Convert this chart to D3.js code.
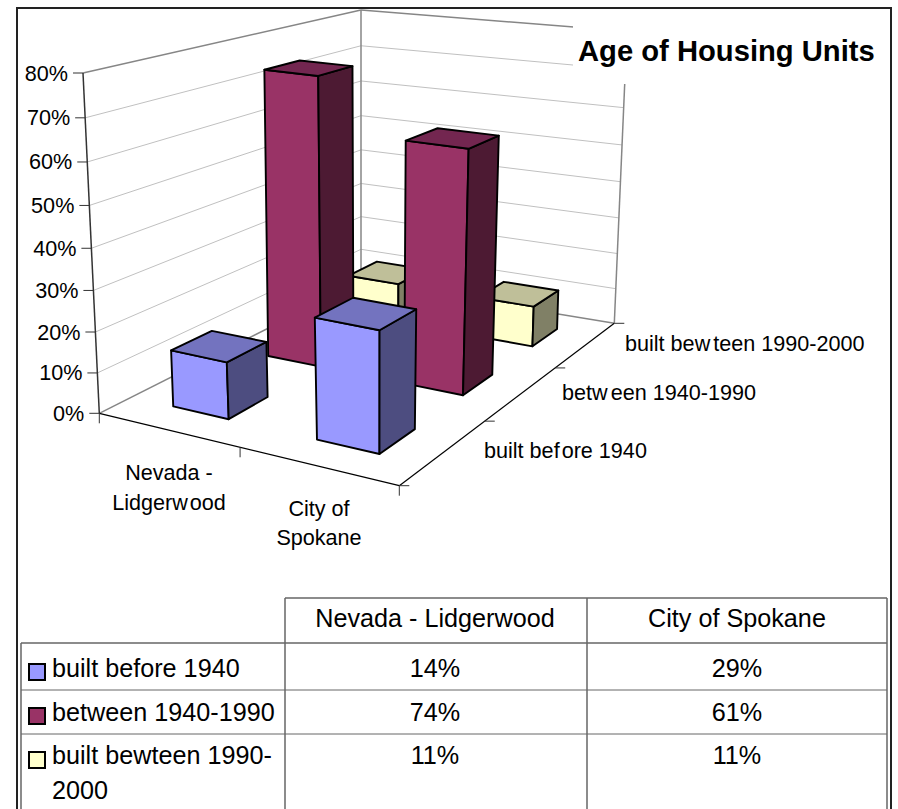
<!DOCTYPE html>
<html><head><meta charset="utf-8">
<script src="https://cdn.jsdelivr.net/npm/d3@7/dist/d3.min.js"></script>
<style>html,body{margin:0;padding:0;background:#fff}svg{display:block}text{font-family:"Liberation Sans",Arial,sans-serif;fill:#000}</style>
</head><body><svg id="c" width="898" height="809"></svg>
<script>
const categories = ["Nevada - Lidgerwood", "City of Spokane"];
const seriesNames = ["built before 1940", "between 1940-1990", "built bewteen 1990-2000"];
const builtBefore1940 = [0.14, 0.29];
const between1940_1990 = [0.74, 0.61];
const built1990_2000 = [0.11, 0.11];
const seriesValues = [builtBefore1940, between1940_1990, built1990_2000];
const valueTicks = [0, 0.1, 0.2, 0.3, 0.4, 0.5, 0.6, 0.7, 0.8];
const frontColors = ["#9999FF", "#993366", "#FFFFCC"];
const topColors = ["#7373BF", "#732650", "#BFBF99"];
const sideColors = ["#4D4D80", "#4D1A33", "#808066"];

const svg = d3.select("#c");
// scales into the unit cube of the plot
const uScale = d3.scaleBand().domain(categories).range([0.005,1.005]).paddingInner(0.6).paddingOuter(0.3);
const vScale = d3.scaleBand().domain(seriesNames).range([0,1]).paddingInner(0.6).paddingOuter(0.3);
const zScale = d3.scaleLinear().domain([0,0.8]).range([0,1]);

// perspective: unit square mapped onto the floor quad and onto the ceiling quad
function quadMap(p0,p1,p2,p3){
  const dx1=p1[0]-p2[0],dx2=p3[0]-p2[0],sx=p0[0]-p1[0]+p2[0]-p3[0];
  const dy1=p1[1]-p2[1],dy2=p3[1]-p2[1],sy=p0[1]-p1[1]+p2[1]-p3[1];
  const den=dx1*dy2-dx2*dy1;
  const g=(sx*dy2-dx2*sy)/den,h=(dx1*sy-sx*dy1)/den;
  const a=p1[0]-p0[0]+g*p1[0],b=p3[0]-p0[0]+h*p3[0],c=p0[0];
  const d=p1[1]-p0[1]+g*p1[1],e=p3[1]-p0[1]+h*p3[1],f=p0[1];
  return (u,v)=>{const w=g*u+h*v+1;return [(a*u+b*v+c)/w,(d*u+e*v+f)/w];};
}
const floorMap=quadMap([99.3,413.3],[399.3,485.7],[614.3,323.3],[361,281.5]);
const ceilMap=quadMap([83,73],[402.5,118],[627,31.3],[361,10]);
const warp=z=>z/(1+0.062*(1-z));
function proj(u,v,z){const p=floorMap(u,v),q=ceilMap(u,v),s=warp(z);return [p[0]+(q[0]-p[0])*s,p[1]+(q[1]-p[1])*s];}

const line=d3.line();
function seg(p,q,col,wd){svg.append("line").attr("x1",p[0]).attr("y1",p[1]).attr("x2",q[0]).attr("y2",q[1]).attr("stroke",col).attr("stroke-width",wd);}

// gridlines on the walls
valueTicks.slice(1,-1).forEach(t=>{const z=zScale(t);
  seg(proj(0,0,z),proj(0,1,z),"#c0c0c0",1);
  seg(proj(0,1,z),proj(1,1,z),"#c0c0c0",1);
});
// wall outlines
const wallGrey="#868686";
seg(proj(0,0,1),proj(0,1,1),wallGrey,1.5);
seg(proj(0,1,1),proj(1,1,1),wallGrey,1.5);
seg(proj(0,1,0),proj(0,1,1),wallGrey,1.5);
seg(proj(1,1,0),proj(1,1,1),wallGrey,1.5);
seg(proj(0,0,0),proj(0,1,0),wallGrey,1.5);
seg(proj(0,1,0),proj(1,1,0),wallGrey,1.5);

// bars, back to front
d3.range(seriesNames.length).reverse().forEach(si=>{
  categories.forEach((cat,ci)=>{
    const u0=uScale(cat),u1=u0+uScale.bandwidth(),v0=vScale(seriesNames[si]),v1=v0+vScale.bandwidth(),z=zScale(seriesValues[si][ci]);
    const faces=[
      [[proj(u0,v0,0),proj(u1,v0,0),proj(u1,v0,z),proj(u0,v0,z)],frontColors[si]],
      [[proj(u1,v0,0),proj(u1,v1,0),proj(u1,v1,z),proj(u1,v0,z)],sideColors[si]],
      [[proj(u0,v0,z),proj(u1,v0,z),proj(u1,v1,z),proj(u0,v1,z)],topColors[si]]
    ];
    faces.forEach(([pts,col])=>{
      svg.append("path").attr("d",line(pts)+"Z").attr("fill",col).attr("stroke","#000").attr("stroke-width",1.9).attr("stroke-linejoin","round");
    });
  });
});

// title mask and title
svg.append("rect").attr("x",573).attr("y",20).attr("width",312).attr("height",64).attr("fill","#fff");
svg.append("text").attr("x",578).attr("y",60.5).attr("font-size",29.2).attr("font-weight","bold").text("Age of Housing Units");

// axes
seg(proj(0,0,0),proj(0,0,1),"#333",1.5);
seg(proj(0,0,0),proj(1,0,0),"#000",1.2);
seg(proj(1,0,0),proj(1,1,0),"#000",1.2);
valueTicks.forEach(t=>{const p=proj(0,0,zScale(t));
  seg([p[0]-10,p[1]],p,"#333",1);
  svg.append("text").attr("x",p[0]-15).attr("y",p[1]+7.5).attr("text-anchor","end").attr("font-size",21.6).text(d3.format(".0%")(t));
});
[0,0.5,1].forEach(u=>{const p=proj(u,0,0);seg(p,[p[0],p[1]+10],"#333",1);});
[0,1/3,2/3,1].forEach(v=>{const p=proj(1,v,0);seg(p,[p[0]+10,p[1]],"#333",1);});

// category labels
const catLabels=[[["Nevada -"],["Lidgerw","ood"]],[["City of"],["Spokane"]]];
const catPos=[[169,480,510],[319,516,545]];
function gapText(x,y,size,parts,anchor,gap){
  const t=svg.append("text").attr("x",x).attr("y",y).attr("font-size",size).attr("text-anchor",anchor);
  parts.forEach((s,i)=>{const ts=t.append("tspan").text(s);if(i)ts.attr("dx",gap);});
}
catLabels.forEach((rows,i)=>rows.forEach((r,j)=>gapText(catPos[i][0],catPos[i][j+1],21.6,r,"middle",2)));
// series axis labels
gapText(484,457.5,21.6,["built bef","ore 1940"],"start",2);
gapText(562,400,21.6,["betw","een 1940-1990"],"start",3);
gapText(625,351,21.6,["built bew","teen 1990-2000"],"start",3);

// frame
svg.append("rect").attr("x",17).attr("y",8).attr("width",874).attr("height",900).attr("fill","none").attr("stroke","#222").attr("stroke-width",2);

// data table
const tbl="#666";
const colX=[21,285,587,887],rowY=[598,643,690,734,830];
seg([colX[1],rowY[0]],[colX[3],rowY[0]],tbl,1.5);
seg([colX[0],rowY[1]],[colX[3],rowY[1]],tbl,1.5);
seg([colX[0],rowY[2]],[colX[3],rowY[2]],tbl,1);
seg([colX[0],rowY[3]],[colX[3],rowY[3]],tbl,1);
seg([colX[0],rowY[1]],[colX[0],rowY[4]],tbl,1.5);
colX.slice(1).forEach(x=>seg([x,rowY[0]],[x,rowY[4]],tbl,1.5));
const colC=[435,737];
const tableFont=25.2;
categories.forEach((cat,i)=>svg.append("text").attr("x",colC[i]).attr("y",627).attr("text-anchor","middle").attr("font-size",tableFont).text(cat));
const rowBase=[677,721,764];
const keyY=[664,708,752];
seriesNames.forEach((s,i)=>{
  svg.append("rect").attr("x",29).attr("y",keyY[i]).attr("width",16).attr("height",16).attr("fill",frontColors[i]).attr("stroke","#000").attr("stroke-width",2);
  seriesValues[i].forEach((val,j)=>svg.append("text").attr("x",colC[j]).attr("y",rowBase[i]).attr("text-anchor","middle").attr("font-size",tableFont).text(d3.format(".0%")(val)));
});
const rowText=[["built before 1940"],["between 1940-1990"],["built bewteen 1990-","2000"]];
rowText.forEach((ls,i)=>ls.forEach((l,j)=>svg.append("text").attr("x",52).attr("y",rowBase[i]+j*35).attr("font-size",tableFont).text(l)));
</script></body></html>
